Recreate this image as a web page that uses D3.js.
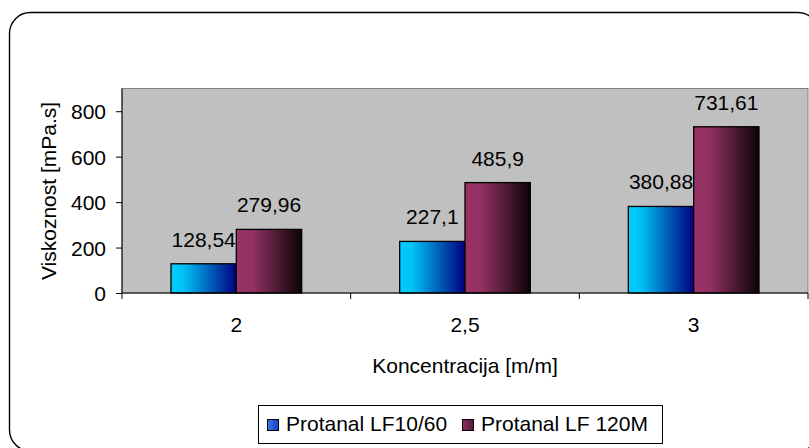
<!DOCTYPE html>
<html>
<head>
<meta charset="utf-8">
<script src="https://cdn.jsdelivr.net/npm/d3@7"></script>
<style>
  html, body { margin: 0; padding: 0; background: #fff; }
  svg { display: block; font-family: "Liberation Sans", Arial, sans-serif; }
</style>
</head>
<body>
<svg id="chart" width="809" height="448"></svg>
<script>
// Viscosity of two Protanal grades at three concentrations
const categories = ["2", "2,5", "3"];
const seriesNames = ["Protanal LF10/60", "Protanal LF 120M"];
const lf1060 = [128.54, 227.1, 380.88];
const lf120m = [279.96, 485.9, 731.61];
const valueLabels = [["128,54", "227,1", "380,88"], ["279,96", "485,9", "731,61"]];
const yTicks = [0, 200, 400, 600, 800];
const yMax = 900;

const seriesValues = [lf1060, lf120m];

const svg = d3.select("#chart");
const defs = svg.append("defs");

// Horizontal gradients for the bars
function hGrad(id, stops) {
  const g = defs.append("linearGradient").attr("id", id)
    .attr("x1", "0%").attr("y1", "0%").attr("x2", "100%").attr("y2", "0%");
  stops.forEach(([o, c]) => g.append("stop").attr("offset", o).attr("stop-color", c));
}
hGrad("gBlue", [["0%", "#00CCFF"], ["18%", "#00C4F6"], ["100%", "#000080"]]);
hGrad("gPurple", [["0%", "#993366"], ["25%", "#923163"], ["100%", "#0C0306"]]);
hGrad("gBlueKey", [["0%", "#3A78F0"], ["100%", "#1A3CC0"]]);
hGrad("gPurpleKey", [["0%", "#8A3060"], ["100%", "#5A1838"]]);
const fills = ["url(#gBlue)", "url(#gPurple)"];
const keyFills = ["url(#gBlueKey)", "url(#gPurpleKey)"];

// Outer chart frame with rounded corners
svg.append("rect")
  .attr("x", 9.5).attr("y", 12.5)
  .attr("width", 809.5).attr("height", 438.5)
  .attr("rx", 21).attr("ry", 21)
  .attr("fill", "#fff").attr("stroke", "#000").attr("stroke-width", 1.4);

const plot = { left: 122, right: 808, top: 88.5, bottom: 293 };

const x = d3.scaleBand().domain(categories).range([plot.left, plot.right]).paddingInner(0).paddingOuter(0);
const xs = d3.scaleBand().domain(d3.range(seriesNames.length)).range([0, x.bandwidth()])
  .paddingInner(0).paddingOuter(0.75);
const y = d3.scaleLinear().domain([0, yMax]).range([plot.bottom, plot.top]);

// Plot area background
svg.append("rect")
  .attr("x", plot.left).attr("y", y(yMax))
  .attr("width", plot.right - plot.left).attr("height", y(0) - y(yMax))
  .attr("fill", "#C0C0C0").attr("stroke", "#808080").attr("stroke-width", 1);

// Bars
const groups = svg.append("g").selectAll("g")
  .data(categories)
  .join("g")
  .attr("transform", d => `translate(${x(d)},0)`);

groups.selectAll("rect")
  .data((d, i) => seriesValues.map((vals, s) => ({ s, v: vals[i], label: valueLabels[s][i] })))
  .join("rect")
  .attr("x", d => xs(d.s))
  .attr("y", d => y(d.v))
  .attr("width", xs.bandwidth())
  .attr("height", d => y(0) - y(d.v))
  .attr("fill", d => fills[d.s])
  .attr("stroke", "#000").attr("stroke-width", 1.3);

groups.selectAll("text")
  .data((d, i) => seriesValues.map((vals, s) => ({ s, v: vals[i], label: valueLabels[s][i] })))
  .join("text")
  .attr("x", d => xs(d.s) + xs.bandwidth() / 2)
  .attr("y", d => y(d.v) - 17)
  .attr("text-anchor", "middle")
  .attr("font-size", 21)
  .attr("fill", "#000")
  .text(d => d.label);

// Y axis
const yAxis = d3.axisLeft(y).tickValues(yTicks).tickSize(6).tickPadding(10).tickFormat(d3.format("d"));
const gy = svg.append("g").attr("transform", `translate(${plot.left},0)`).call(yAxis);
gy.select(".domain").attr("stroke", "#000").attr("d", `M0,${y(yMax)}V${y(0)}`);
gy.selectAll(".tick line").attr("stroke", "#000");
gy.selectAll(".tick text").attr("font-size", 21).attr("font-family", "Liberation Sans, Arial, sans-serif")
  .attr("fill", "#000").attr("dy", "0.36em");

// X axis: ticks at category boundaries, labels at centres
const gx = svg.append("g").attr("transform", `translate(0,${plot.bottom})`);
gx.append("line").attr("x1", plot.left).attr("x2", plot.right).attr("y1", 0).attr("y2", 0)
  .attr("stroke", "#000").attr("stroke-width", 1.2);
const bounds = categories.map(c => x(c)).concat([x(categories[categories.length - 1]) + x.bandwidth()]);
gx.selectAll("line.tk").data(bounds).join("line").attr("class", "tk")
  .attr("x1", d => d).attr("x2", d => d).attr("y1", 0).attr("y2", 6)
  .attr("stroke", "#000");
gx.selectAll("text").data(categories).join("text")
  .attr("x", d => x(d) + x.bandwidth() / 2)
  .attr("y", 39)
  .attr("text-anchor", "middle")
  .attr("font-size", 21)
  .text(d => d);

// Axis titles
svg.append("text")
  .attr("x", 465).attr("y", 372.5)
  .attr("text-anchor", "middle").attr("font-size", 21)
  .text("Koncentracija [m/m]");
svg.append("text")
  .attr("transform", "translate(56,191) rotate(-90)")
  .attr("text-anchor", "middle").attr("font-size", 21)
  .text("Viskoznost [mPa.s]");

// Legend
const legend = svg.append("g");
legend.append("rect")
  .attr("x", 258.5).attr("y", 405.5).attr("width", 404).attr("height", 38)
  .attr("fill", "#fff").attr("stroke", "#000").attr("stroke-width", 1);
const keyX = [267, 462];
seriesNames.forEach((name, i) => {
  legend.append("rect")
    .attr("x", keyX[i] + 0.5).attr("y", 419.5).attr("width", 11).attr("height", 11)
    .attr("fill", keyFills[i]).attr("stroke", "#000").attr("stroke-width", 1);
  legend.append("text")
    .attr("x", keyX[i] + 19).attr("y", 431)
    .attr("font-size", 21)
    .text(name);
});
</script>
</body>
</html>
